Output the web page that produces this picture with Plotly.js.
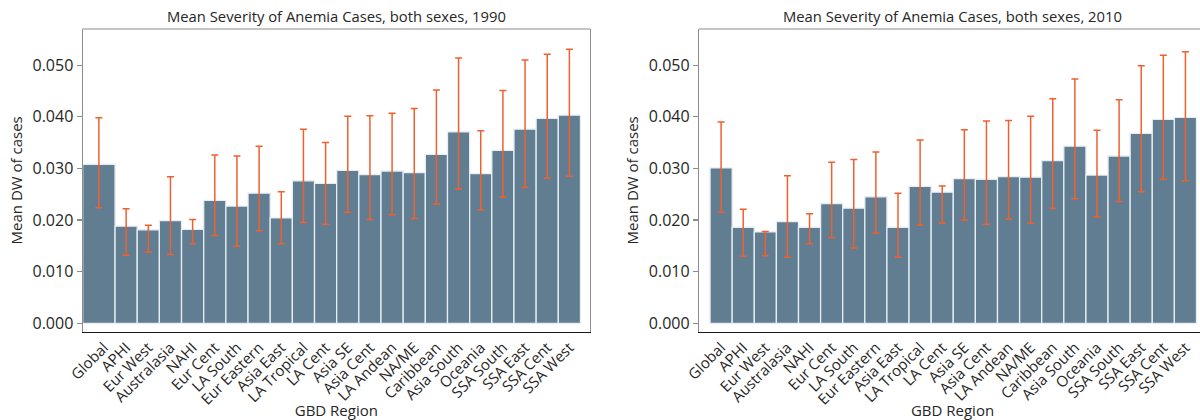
<!DOCTYPE html>
<html>
<head>
<meta charset="utf-8">
<script src="https://cdn.plot.ly/plotly-3.0.1.min.js"></script>
<style>
html,body{margin:0;padding:0;overflow:hidden;background:#ffffff;}
#chart{width:1212px;height:420px;}
</style>
</head>
<body>
<div id="chart"></div>
<script>
// ---- data ----
const regions = ["Global","APHI","Eur West","Australasia","NAHI","Eur Cent","LA South","Eur Eastern","Asia East","LA Tropical","LA Cent","Asia SE","Asia Cent","LA Andean","NA/ME","Caribbean","Asia South","Oceania","SSA South","SSA East","SSA Cent","SSA West"];

const mean1990  = [0.0308,0.0188,0.0181,0.0199,0.0182,0.0238,0.0227,0.0252,0.0204,0.0276,0.0271,0.0296,0.0288,0.0295,0.0292,0.0327,0.0371,0.0290,0.0335,0.0376,0.0397,0.0403];
const upper1990 = [0.0398,0.0222,0.0190,0.0284,0.0201,0.0326,0.0324,0.0343,0.0255,0.0376,0.0350,0.0401,0.0402,0.0407,0.0416,0.0452,0.0514,0.0373,0.0451,0.0510,0.0521,0.0531];
const lower1990 = [0.0224,0.0132,0.0138,0.0133,0.0154,0.0170,0.0149,0.0179,0.0154,0.0195,0.0192,0.0215,0.0201,0.0210,0.0203,0.0231,0.0260,0.0220,0.0244,0.0263,0.0281,0.0285];

const mean2010  = [0.0301,0.0186,0.0177,0.0197,0.0186,0.0232,0.0223,0.0245,0.0186,0.0265,0.0254,0.0280,0.0279,0.0284,0.0283,0.0315,0.0343,0.0287,0.0324,0.0368,0.0395,0.0399];
const upper2010 = [0.0390,0.0221,0.0178,0.0286,0.0212,0.0312,0.0317,0.0332,0.0252,0.0355,0.0266,0.0375,0.0392,0.0393,0.0401,0.0435,0.0473,0.0374,0.0433,0.0499,0.0519,0.0526];
const lower2010 = [0.0215,0.0130,0.0131,0.0128,0.0154,0.0166,0.0146,0.0175,0.0128,0.0190,0.0194,0.0200,0.0192,0.0202,0.0194,0.0223,0.0241,0.0206,0.0236,0.0255,0.0279,0.0276];

const yTickVals = [0, 0.01, 0.02, 0.03, 0.04, 0.05];
const yTickText = ["0.000","0.010","0.020","0.030","0.040","0.050"];

const titles = ["Mean Severity of Anemia Cases, both sexes, 1990", "Mean Severity of Anemia Cases, both sexes, 2010"];
const xTitle = "GBD Region";
const yTitle = "Mean DW of cases";

// ---- styling ----
const W = 1212, H = 420;
const FONT = "Open Sans, Noto Sans, sans-serif";
const TXT = "#262626";
const BAR = "#607d92";
const ERR = "#f0602e";

function errTrace(mean, up, lo, xa, ya, widths, offsets) {
  return {
    type: "bar", x: regions, y: mean, xaxis: xa, yaxis: ya,
    marker: {color: BAR, line: {color: "#e6edf3", width: 1.3}},
    width: widths, offset: offsets,
    error_y: {
      type: "data", symmetric: false,
      array: up.map((u, i) => u - mean[i]),
      arrayminus: lo.map((l, i) => mean[i] - l),
      color: ERR, thickness: 1.5, width: 3.5
    },
    hoverinfo: "x+y", showlegend: false
  };
}

// In the 1990 panel the first bar is drawn reaching the left frame
const w1 = regions.map((r, i) => i === 0 ? 1.46 : 1);
const o1 = regions.map((r, i) => i === 0 ? -0.96 : -0.5);

const data = [
  errTrace(mean1990, upper1990, lower1990, "x", "y", w1, o1),
  errTrace(mean2010, upper2010, lower2010, "x2", "y2", undefined, undefined)
];

const yDom = [1 - 331.7 / H, 1 - 29 / H];
const d1 = [82.7 / W, 590 / W];
const d2 = [699 / W, 1206 / W];

function xAxis(dom, range, anchor) {
  return {
    domain: dom, anchor: anchor, range: range, type: "category",
    showline: true, linecolor: "#1a1a1a", linewidth: 1.3, mirror: false,
    showgrid: false, zeroline: false, ticks: "",
    tickangle: -45, tickfont: {family: FONT, size: 15, color: TXT},
    title: {text: xTitle, font: {family: FONT, size: 15, color: TXT}, standoff: 4},
    fixedrange: true
  };
}
function yAxis(dom, anchor) {
  return {
    domain: yDom, anchor: anchor, range: [-0.00163, 0.0570],
    tickmode: "array", tickvals: yTickVals, ticktext: yTickText,
    showline: true, linecolor: "#8c8c8c", linewidth: 1.2, mirror: true,
    showgrid: false, zeroline: false,
    ticks: "outside", ticklen: 5, tickcolor: "#8c8c8c", tickwidth: 1.2,
    tickfont: {family: FONT, size: 16, color: TXT},
    title: {text: yTitle, font: {family: FONT, size: 15, color: TXT}, standoff: 6},
    fixedrange: true
  };
}

const layout = {
  width: W, height: H,
  margin: {l: 0, r: 0, t: 0, b: 0},
  paper_bgcolor: "#ffffff", plot_bgcolor: "#ffffff",
  bargap: 0,
  xaxis: xAxis(d1, [-0.96, 21.93], "y"),
  yaxis: yAxis(yDom, "x"),
  xaxis2: xAxis(d2, [-1.0, 21.93], "y2"),
  yaxis2: yAxis(yDom, "x2"),
  shapes: [
    {type: "line", xref: "x domain", yref: "y domain", x0: 0, x1: 1, y0: 1, y1: 1, line: {color: "#8c8c8c", width: 1.2}},
    {type: "line", xref: "x2 domain", yref: "y2 domain", x0: 0, x1: 1, y0: 1, y1: 1, line: {color: "#8c8c8c", width: 1.2}}
  ],
  annotations: [
    {text: titles[0], xref: "paper", yref: "paper", x: (d1[0] + d1[1]) / 2, y: 1 - 16 / H, xanchor: "center", yanchor: "middle", showarrow: false, font: {family: FONT, size: 14.8, color: TXT}},
    {text: titles[1], xref: "paper", yref: "paper", x: (d2[0] + d2[1]) / 2, y: 1 - 16 / H, xanchor: "center", yanchor: "middle", showarrow: false, font: {family: FONT, size: 14.8, color: TXT}}
  ]
};

Plotly.newPlot("chart", data, layout, {displayModeBar: false, staticPlot: true});
</script>
</body>
</html>
